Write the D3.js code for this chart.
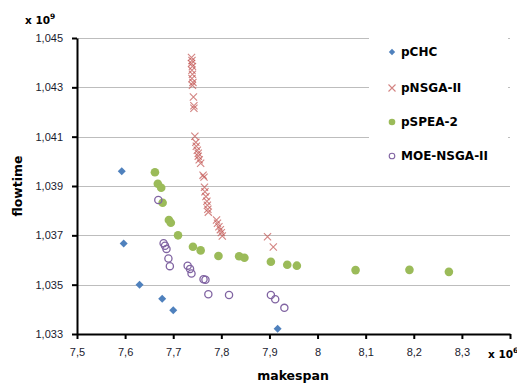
<!DOCTYPE html>
<html>
<head>
<meta charset="utf-8">
<script src="https://cdn.jsdelivr.net/npm/d3@7"></script>
<style>
  html, body { margin: 0; padding: 0; background: #fff; }
  svg { display: block; }
</style>
</head>
<body>
<script>
// values in units of x10^6 (makespan) and x10^9 (flowtime)
const pCHC = [
  [7.593, 1.03960], [7.597, 1.03667], [7.630, 1.03500],
  [7.677, 1.03443], [7.700, 1.03396], [7.917, 1.03321]
];
const pNSGA = [
  [7.738, 1.04421], [7.739, 1.04409], [7.738, 1.04397], [7.740, 1.04385],
  [7.739, 1.04369], [7.740, 1.04353], [7.739, 1.04336], [7.741, 1.04320],
  [7.740, 1.04308], [7.742, 1.04261], [7.743, 1.04225], [7.743, 1.04215],
  [7.745, 1.04102], [7.747, 1.04077], [7.748, 1.04061], [7.750, 1.04045],
  [7.752, 1.04033], [7.752, 1.04021], [7.754, 1.04006], [7.757, 1.03992],
  [7.762, 1.03944], [7.764, 1.03936], [7.765, 1.03895], [7.766, 1.03877],
  [7.768, 1.03857], [7.770, 1.03838], [7.771, 1.03822], [7.772, 1.03806],
  [7.773, 1.03794], [7.790, 1.03762], [7.792, 1.03749], [7.795, 1.03735],
  [7.798, 1.03723], [7.800, 1.03711], [7.802, 1.03697], [7.896, 1.03694],
  [7.908, 1.03653]
];
const pSPEA = [
  [7.662, 1.03956], [7.668, 1.03909], [7.675, 1.03893], [7.678, 1.03832],
  [7.691, 1.03762], [7.695, 1.03751], [7.710, 1.03700], [7.741, 1.03654],
  [7.757, 1.03639], [7.794, 1.03616], [7.837, 1.03615], [7.848, 1.03609],
  [7.903, 1.03593], [7.937, 1.03581], [7.957, 1.03577], [8.079, 1.03559],
  [8.191, 1.03560], [8.273, 1.03552]
];
const moeNSGA = [
  [7.669, 1.03843], [7.680, 1.03668], [7.683, 1.03658], [7.686, 1.03645],
  [7.690, 1.03606], [7.693, 1.03575], [7.730, 1.03577], [7.735, 1.03564],
  [7.738, 1.03545], [7.763, 1.03522], [7.767, 1.03520], [7.773, 1.03461],
  [7.816, 1.03458], [7.903, 1.03458], [7.912, 1.03441], [7.931, 1.03406]
];
const seriesNames = ['pCHC', 'pNSGA-II', 'pSPEA-2', 'MOE-NSGA-II'];
const xTicks = [7.5, 7.6, 7.7, 7.8, 7.9, 8.0, 8.1, 8.2, 8.3, 8.4];
const yTicks = [1.033, 1.035, 1.037, 1.039, 1.041, 1.043, 1.045];

const width = 517, height = 383;
const margin = { top: 38, right: 7, bottom: 49, left: 77 };

const svg = d3.select('body').append('svg')
  .attr('width', width)
  .attr('height', height);

const x = d3.scaleLinear().domain([7.5, 8.4]).range([margin.left, width - margin.right]);
const y = d3.scaleLinear().domain([1.033, 1.045]).range([height - margin.bottom, margin.top]);

const comma = f => v => d3.format(f)(v).replace('.', ',');
const fmtX = v => (Math.abs(v - 8) < 1e-9 ? '8' : comma('.1f')(v));

// gridlines
svg.append('g')
  .selectAll('line')
  .data(yTicks.slice(1))
  .join('line')
  .attr('x1', x(7.5)).attr('x2', x(8.4))
  .attr('y1', d => Math.round(y(d)) + 0.5).attr('y2', d => Math.round(y(d)) + 0.5)
  .attr('stroke', '#bdbdbd')
  .attr('stroke-width', 1.2);

// legend background (covers gridlines)
svg.append('rect')
  .attr('x', 369).attr('y', 30)
  .attr('width', 139).attr('height', 145)
  .attr('fill', '#fff');

// axes
const yAxis = svg.append('g')
  .attr('transform', `translate(${margin.left},0)`)
  .call(d3.axisLeft(y).tickValues(yTicks).tickFormat(comma('.3f')).tickSize(5).tickSizeOuter(0));
const xAxis = svg.append('g')
  .attr('transform', `translate(0,${height - margin.bottom})`)
  .call(d3.axisBottom(x).tickValues(xTicks)
    .tickFormat(d => (d > 8.35 ? '' : fmtX(d))).tickSize(5).tickSizeOuter(0));

[xAxis, yAxis].forEach(g => {
  g.select('.domain').attr('stroke', '#000').attr('stroke-width', 2);
  g.selectAll('.tick line').attr('stroke', '#000').attr('stroke-width', 2);
  g.selectAll('.tick text')
    .attr('fill', '#1a1a2e')
    .style('font-family', '"Liberation Sans", Arial, sans-serif')
    .style('font-size', '11px');
});
yAxis.selectAll('.tick text').attr('x', -14);
xAxis.selectAll('.tick text').attr('y', 14);

// marks
svg.append('g')
  .selectAll('path')
  .data(pCHC)
  .join('path')
  .attr('d', d3.symbol().type(d3.symbolSquare).size(32)())
  .attr('transform', d => `translate(${x(d[0])},${y(d[1])}) rotate(45)`)
  .attr('fill', '#4f81bd');

svg.append('g')
  .selectAll('circle')
  .data(pSPEA)
  .join('circle')
  .attr('cx', d => x(d[0])).attr('cy', d => y(d[1]))
  .attr('r', 4.3)
  .attr('fill', '#9bbb59');

svg.append('g')
  .selectAll('circle')
  .data(moeNSGA)
  .join('circle')
  .attr('cx', d => x(d[0])).attr('cy', d => y(d[1]))
  .attr('r', 3.6)
  .attr('fill', 'none')
  .attr('stroke', '#8064a2')
  .attr('stroke-width', 1.3);

const cross = 3.6;
svg.append('g')
  .selectAll('path')
  .data(pNSGA)
  .join('path')
  .attr('d', d => {
    const cx = x(d[0]), cy = y(d[1]);
    return `M${cx - cross},${cy - cross}L${cx + cross},${cy + cross}M${cx - cross},${cy + cross}L${cx + cross},${cy - cross}`;
  })
  .attr('stroke', '#c0504d')
  .attr('stroke-opacity', 0.7)
  .attr('stroke-width', 1.1)
  .attr('fill', 'none');

// legend
const legendY = [52, 88, 122, 156];
const legend = svg.append('g');
seriesNames.forEach((name, i) => {
  const ly = legendY[i];
  const lx = 392;
  if (i === 0) {
    legend.append('path')
      .attr('d', d3.symbol().type(d3.symbolSquare).size(20)())
      .attr('transform', `translate(${lx},${ly}) rotate(45)`)
      .attr('fill', '#4f81bd');
  } else if (i === 1) {
    const c = 3.5;
    legend.append('path')
      .attr('d', `M${lx - c},${ly - c}L${lx + c},${ly + c}M${lx - c},${ly + c}L${lx + c},${ly - c}`)
      .attr('stroke', '#c0504d').attr('stroke-opacity', 0.7).attr('stroke-width', 1.1);
  } else if (i === 2) {
    legend.append('circle').attr('cx', lx).attr('cy', ly).attr('r', 3.3).attr('fill', '#9bbb59');
  } else {
    legend.append('circle').attr('cx', lx).attr('cy', ly).attr('r', 2.8)
      .attr('fill', 'none').attr('stroke', '#8064a2').attr('stroke-width', 1.1);
  }
  legend.append('text')
    .attr('x', 401).attr('y', ly)
    .attr('dy', '0.36em')
    .style('font-family', '"DejaVu Sans", sans-serif')
    .style('font-weight', 'bold')
    .style('font-size', '12px')
    .attr('fill', '#000')
    .text(name);
});

// axis titles and display units
const bold = sel => sel
  .style('font-family', '"DejaVu Sans", sans-serif')
  .style('font-weight', 'bold')
  .attr('fill', '#000');

svg.append('text')
  .attr('x', 293).attr('y', 380)
  .attr('text-anchor', 'middle')
  .style('font-size', '12.5px')
  .call(bold)
  .text('makespan');

svg.append('text')
  .attr('transform', 'translate(22,186) rotate(-90)')
  .attr('text-anchor', 'middle')
  .style('font-size', '12.5px')
  .call(bold)
  .text('flowtime');

const unitY = svg.append('text')
  .attr('x', 25).attr('y', 24)
  .style('font-size', '10.5px')
  .call(bold);
unitY.append('tspan').text('x 10');
unitY.append('tspan').attr('dy', -5).style('font-size', '7.5px').text('9');

const unitX = svg.append('text')
  .attr('x', 488).attr('y', 358)
  .style('font-size', '10.5px')
  .call(bold);
unitX.append('tspan').text('x 10');
unitX.append('tspan').attr('dy', -5).style('font-size', '7.5px').text('6');
</script>
</body>
</html>
